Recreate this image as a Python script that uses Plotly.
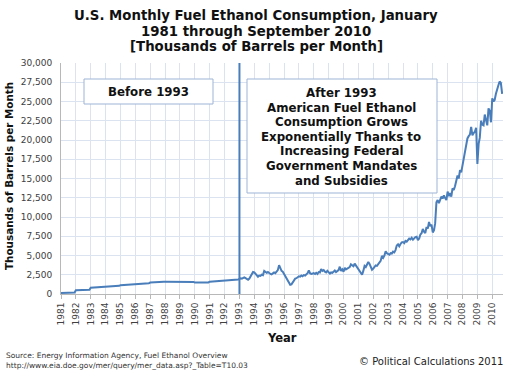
import pandas as pd
import plotly.graph_objects as go

# ---- Data (thousands of barrels per month) ----
v1981 = [140, 150, 150, 160, 160, 170, 170, 170, 180, 180, 180, 190]
v1982 = [480, 490, 490, 500, 500, 510, 510, 520, 520, 530, 530, 540]
v1983 = [820, 830, 840, 850, 850, 860, 870, 870, 880, 880, 890, 900]
v1984 = [980, 990, 1000, 1010, 1010, 1020, 1030, 1030, 1040, 1050, 1050, 1060]
v1985 = [1150, 1160, 1170, 1180, 1190, 1190, 1200, 1210, 1220, 1230, 1240, 1250]
v1986 = [1300, 1310, 1320, 1330, 1340, 1350, 1360, 1370, 1380, 1390, 1400, 1410]
v1987 = [1480, 1500, 1510, 1520, 1530, 1540, 1550, 1560, 1570, 1580, 1590, 1600]
v1988 = [1600, 1600, 1610, 1610, 1620, 1620, 1620, 1630, 1630, 1630, 1640, 1640]
v1989 = [1620, 1620, 1610, 1610, 1600, 1600, 1600, 1590, 1590, 1580, 1580, 1570]
v1990 = [1480, 1470, 1470, 1460, 1460, 1470, 1470, 1480, 1480, 1490, 1490, 1500]
v1991 = [1600, 1610, 1620, 1630, 1640, 1650, 1650, 1660, 1670, 1680, 1690, 1700]
v1992 = [1780, 1790, 1800, 1810, 1820, 1830, 1840, 1850, 1860, 1870, 1880, 1890]
v1993 = [1950, 2030, 1980, 2100, 2150, 2060, 1900, 1850, 2000, 2250, 2500, 2850]
v1994 = [2800, 2600, 2450, 2250, 2400, 2350, 2500, 2450, 3000, 2800, 2750, 2850]
v1995 = [2700, 2600, 2550, 2650, 2800, 2700, 2900, 3100, 3750, 3300, 3000, 2900]
v1996 = [2600, 2250, 2000, 1600, 1350, 1200, 1250, 1500, 1700, 2000, 2050, 2200]
v1997 = [2300, 2250, 2400, 2300, 2450, 2400, 2550, 2700, 3050, 2700, 2600, 2650]
v1998 = [2700, 2600, 2750, 2600, 2850, 2800, 3250, 3000, 3100, 2900, 2800, 3000]
v1999 = [2750, 2650, 2800, 2750, 2900, 3050, 2850, 2950, 3100, 3550, 3000, 3200]
v2000 = [2900, 3400, 3200, 3300, 3350, 3500, 3850, 3700, 3600, 3950, 3700, 3500]
v2001 = [3300, 3100, 2900, 2500, 3000, 3650, 3500, 3800, 4150, 3900, 3400, 3150]
v2002 = [3300, 3500, 3700, 3650, 3900, 4000, 4300, 4950, 4700, 5000, 5550, 5300]
v2003 = [5200, 5100, 5300, 5250, 5500, 5400, 5700, 6300, 6450, 6200, 6500, 6700]
v2004 = [6750, 6600, 6900, 6800, 7000, 7200, 7100, 7300, 7050, 7250, 7400, 7450]
v2005 = [7000, 7200, 7700, 7900, 8450, 8100, 7900, 8700, 8500, 9350, 8800, 9000]
v2006 = [8000, 8300, 9200, 11900, 12200, 11800, 12300, 12650, 12400, 12800, 12450, 12200]
v2007 = [13300, 12700, 13100, 12650, 13700, 13500, 14000, 14600, 15400, 15000, 16100, 15800]
v2008 = [16800, 17500, 18700, 19200, 20200, 20500, 20700, 21700, 20600, 20900, 21100, 21600]
v2009 = [16900, 19500, 20300, 22500, 22000, 21900, 23300, 22600, 21900, 24100, 23800, 22300]
v2010 = [25400, 25000, 25200, 26000, 26700, 27100, 27600, 27400, 26000]

yearly = [v1981, v1982, v1983, v1984, v1985, v1986, v1987, v1988, v1989, v1990,
          v1991, v1992, v1993, v1994, v1995, v1996, v1997, v1998, v1999, v2000,
          v2001, v2002, v2003, v2004, v2005, v2006, v2007, v2008, v2009, v2010]
values = [v for yr in yearly for v in yr]
start_month = "1981-01-01"
months = pd.date_range(start_month, periods=len(values), freq="MS")

divider_date = "1993-01-01"
y_ticks = list(range(0, 30001, 2500))
y_ticktext = [f"{t:,}" for t in y_ticks]

title_lines = ["U.S. Monthly Fuel Ethanol Consumption, January",
               "1981 through September 2010",
               "[Thousands of Barrels per Month]"]
before_text = "Before 1993"
after_lines = ["After 1993", "American Fuel Ethanol", "Consumption Grows",
               "Exponentially Thanks to", "Increasing Federal",
               "Government Mandates", "and Subsidies"]
source_lines = ["Source: Energy Information Agency, Fuel Ethanol Overview",
                "http://www.eia.doe.gov/mer/query/mer_data.asp?_Table=T10.03"]
credit = "© Political Calculations 2011"

# ---- Styling / layout helpers (pixel -> paper) ----
FONT = "DejaVu Sans"
LINE_BLUE = "#4a7ebb"
GRID = "#dbe3f0"
BOX_EDGE = "#9db4d6"
L, R, T, B = 61, 503, 63, 294
W, H = R - L, B - T


def px(x):
    return (x - L) / W


def py(y):
    return (B - y) / H


def note(text, x, y, size, color="#111111", xanchor="center", yanchor="middle", **kw):
    fig.add_annotation(xref="paper", yref="paper", x=px(x), y=py(y), text=text,
                       showarrow=False, xanchor=xanchor, yanchor=yanchor,
                       font=dict(family=FONT, size=size, color=color), **kw)


fig = go.Figure()
fig.add_trace(go.Scatter(x=months, y=values, mode="lines",
                         line=dict(color=LINE_BLUE, width=2), showlegend=False))

fig.add_shape(type="line", xref="x", yref="paper", x0=divider_date, x1=divider_date,
              y0=0, y1=1, line=dict(color=LINE_BLUE, width=2))

# annotation boxes
fig.add_shape(type="rect", xref="paper", yref="paper", x0=px(84), x1=px(213),
              y0=py(104), y1=py(79), line=dict(color=BOX_EDGE, width=1), fillcolor="white")
fig.add_shape(type="rect", xref="paper", yref="paper", x0=px(247), x1=px(437),
              y0=py(193), y1=py(79), line=dict(color=BOX_EDGE, width=1), fillcolor="white")

note(f"<b>{before_text}</b>", 148.5, 92, 11.8)
for i, line in enumerate(after_lines):
    note(f"<b>{line}</b>", 341, 93 + 14.6 * i, 11.8)

# title lines
for line, yc in zip(title_lines, [15.5, 31, 46.5]):
    note(f"<b>{line}</b>", 256, yc, 13.3)

# axis titles
note("<b>Thousands of Barrels per Month</b>", 9, 176, 10.4, textangle=-90)
note("<b>Year</b>", 282, 338, 11.5)

# source & credit
for i, s in enumerate(source_lines):
    note(s, 4, 355 + 10 * i, 7.5, color="#333333", xanchor="left")
note(credit, 505, 361, 10, color="#222222", xanchor="right")

fig.update_layout(
    width=512, height=372,
    margin=dict(l=L, r=512 - R, t=T, b=372 - B, autoexpand=False),
    paper_bgcolor="white", plot_bgcolor="white",
    font=dict(family=FONT, size=9, color="#404040"),
)
fig.update_xaxes(type="date", range=[start_month, "2010-09-22"],
                 dtick="M12", tick0=start_month, tickformat="%Y", tickangle=-90,
                 showgrid=True, gridcolor=GRID, gridwidth=1,
                 showline=True, linecolor="#b8b8b8", linewidth=1,
                 ticks="outside", ticklen=4, tickcolor="#b8b8b8",
                 tickfont=dict(family=FONT, size=9, color="#404040"), zeroline=False)
fig.update_yaxes(range=[0, 30000], tickvals=y_ticks, ticktext=y_ticktext,
                 showgrid=True, gridcolor=GRID, gridwidth=1,
                 showline=True, linecolor="#b8b8b8", linewidth=1,
                 ticks="", ticklabelstandoff=6,
                 tickfont=dict(family=FONT, size=9, color="#404040"), zeroline=False)

fig.write_html("out.html", config={"displayModeBar": False},
               post_script="document.body.style.margin='0';document.body.style.overflow='hidden';")
